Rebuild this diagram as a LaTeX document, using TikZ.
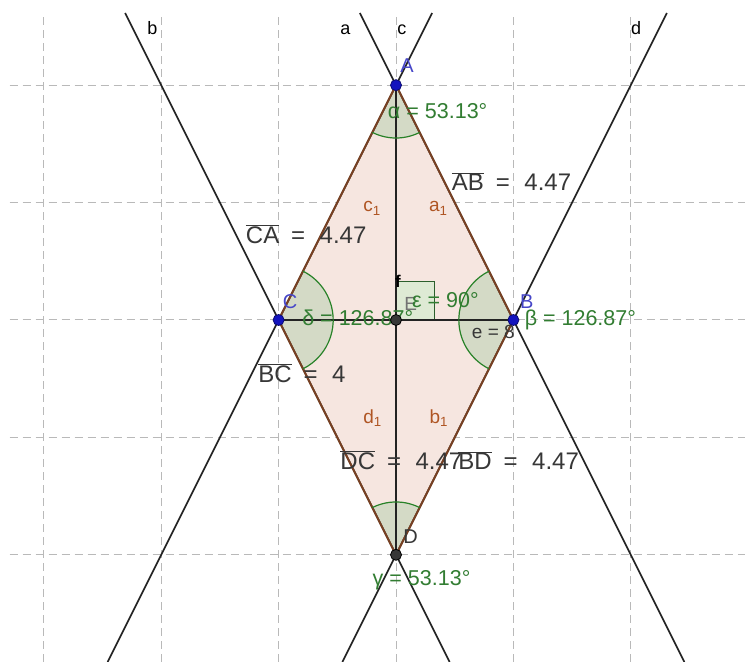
\documentclass[tikz,border=0pt]{standalone}
\usepackage{fontspec}
\setmainfont{Liberation Sans}
\usetikzlibrary{calc}
\definecolor{gridc}{RGB}{185,185,185}
\definecolor{linec}{RGB}{35,35,35}
\definecolor{rhfill}{RGB}{246,230,224}
\definecolor{rhedge}{RGB}{120,65,35}
\definecolor{angfill}{RGB}{212,218,198}
\definecolor{angline}{RGB}{40,130,40}
\definecolor{gtext}{RGB}{50,125,50}
\definecolor{ptblue}{RGB}{20,20,190}
\definecolor{lblblue}{RGB}{70,70,200}
\definecolor{ptgray}{RGB}{55,55,55}
\definecolor{segtext}{RGB}{55,55,55}
\definecolor{subtext}{RGB}{175,85,35}
\definecolor{sqfill}{RGB}{222,234,212}
\begin{document}
\begin{tikzpicture}[x=58.7pt,y=58.7pt,
  gridline/.style={gridc,line width=1pt,dash pattern=on 8pt off 5pt},
  geoline/.style={linec,line width=1.7pt},
  edgeline/.style={rhedge,line width=2pt},
  sector/.style={fill=angfill},
  arcline/.style={angline,line width=1.2pt},
  bluept/.style={circle,fill=ptblue,draw=ptblue!60!black,line width=0.8pt,inner sep=0pt,minimum size=11pt},
  graypt/.style={circle,fill=ptgray,draw=black,line width=0.8pt,inner sep=0pt,minimum size=11pt},
  ptlabel/.style={lblblue,font=\fontsize{20}{20}\selectfont,inner sep=0pt,anchor=base west},
  anglabel/.style={gtext,font=\fontsize{21.5}{21.5}\selectfont,inner sep=0pt,anchor=base west},
  seglabel/.style={segtext,font=\fontsize{24}{24}\selectfont,inner sep=0pt,anchor=base west},
  sublabel/.style={subtext,font=\fontsize{19}{19}\selectfont,inner sep=0pt,anchor=base west},
  linelabel/.style={black,font=\fontsize{18}{18}\selectfont,inner sep=0pt,anchor=base west}]
\useasboundingbox (-6.746,-5.826) rectangle (5.945,5.451);
\fill[white] (-6.746,-5.826) rectangle (5.945,5.451);
% grid
\foreach \x in {-6,-4,-2,0,2,4} \draw[gridline] (\x,-5.826) -- (\x,5.23);
\foreach \y in {-4,-2,0,2,4} \draw[gridline] (-6.58,\y) -- (5.945,\y);
% points
\coordinate (A) at (0,4);
\coordinate (B) at (2,0);
\coordinate (C) at (-2,0);
\coordinate (D) at (0,-4);
\coordinate (E) at (0,0);
% line ends
\coordinate (aT) at (-0.615,5.23);
\coordinate (aB) at (4.913,-5.826);
\coordinate (cT) at (0.615,5.23);
\coordinate (cB) at (-4.913,-5.826);
\coordinate (bT) at (-4.615,5.23);
\coordinate (bB) at (0.913,-5.826);
\coordinate (dT) at (4.615,5.23);
\coordinate (dB) at (-0.913,-5.826);
% rhombus fill
\fill[rhfill] (A) -- (B) -- (D) -- (C) -- cycle;
% angle sectors
\fill[sector] (A) -- ++(-116.57:0.9) arc[start angle=-116.57,end angle=-63.43,radius=0.9] -- cycle;
\fill[sector] (C) -- ++(-63.43:0.93) arc[start angle=-63.43,end angle=63.43,radius=0.93] -- cycle;
\fill[sector] (B) -- ++(116.57:0.93) arc[start angle=116.57,end angle=243.43,radius=0.93] -- cycle;
\fill[sector] (D) -- ++(63.43:0.9) arc[start angle=63.43,end angle=116.57,radius=0.9] -- cycle;
% right angle mark
\filldraw[fill=sqfill,draw=ptgray!80!green,line width=1pt] (E) rectangle (0.65,0.66);
% lines
\draw[geoline] (aT) -- (aB);
\draw[geoline] (cT) -- (cB);
\draw[geoline] (bT) -- (bB);
\draw[geoline] (dT) -- (dB);
% rhombus edges
\draw[edgeline] (A) -- (B) -- (D) -- (C) -- cycle;
% diagonals
\draw[geoline] (A) -- (D);
\draw[geoline] (C) -- (B);
% arcs
\draw[arcline] ($(A)+(-116.57:0.9)$) arc[start angle=-116.57,end angle=-63.43,radius=0.9];
\draw[arcline] ($(C)+(-63.43:0.93)$) arc[start angle=-63.43,end angle=63.43,radius=0.93];
\draw[arcline] ($(B)+(116.57:0.93)$) arc[start angle=116.57,end angle=243.43,radius=0.93];
\draw[arcline] ($(D)+(63.43:0.9)$) arc[start angle=63.43,end angle=116.57,radius=0.9];
% line labels
\node[linelabel] (lb) at (-4.24,4.86) {b};
\node[linelabel] (la) at (-0.95,4.86) {a};
\node[linelabel] (lc) at (0.02,4.86) {c};
\node[linelabel] (ld) at (4.0,4.86) {d};
% angle labels
\node[anglabel] (alpha) at (-0.14,3.43) {α = 53.13°};
\node[anglabel] (delta) at (-1.60,-0.10) {δ = 126.87°};
\node[anglabel] (beta) at (2.19,-0.10) {β = 126.87°};
\node[anglabel] (gamma) at (-0.40,-4.52) {γ = 53.13°};
\node[font=\fontsize{19}{19}\selectfont,ptgray!70,inner sep=0pt,anchor=base west] (lE) at (0.14,0.17) {E};
\node[anglabel] (eps) at (0.27,0.22) {ε = 90°};
% segment labels
\node[seglabel] (AB) at (0.95,2.20) {\(\overline{\mbox{AB}}\)\hspace{0.5em}=\hspace{0.6em}4.47};
\node[seglabel] (CA) at (-2.56,1.30) {\(\overline{\mbox{CA}}\)\hspace{0.5em}=\hspace{0.6em}4.47};
\node[seglabel] (BC) at (-2.35,-1.07) {\(\overline{\mbox{BC}}\)\hspace{0.5em}=\hspace{0.6em}4};
\node[seglabel] (DC) at (-0.95,-2.55) {\(\overline{\mbox{DC}}\)\hspace{0.5em}=\hspace{0.6em}4.47};
\node[seglabel] (BD) at (1.06,-2.55) {\(\overline{\mbox{BD}}\)\hspace{0.5em}=\hspace{0.6em}4.47};
\node[font=\fontsize{19}{19}\selectfont,segtext,inner sep=0pt,anchor=base west] (le) at (1.29,-0.31) {e = 8};
\node[font=\bfseries\fontsize{17}{17}\selectfont,black,inner sep=0pt,anchor=base west] (lf) at (-0.02,0.55) {f};
% side name labels
\node[sublabel] (c1) at (-0.56,1.84) {c\textsubscript{1}};
\node[sublabel] (a1) at (0.56,1.84) {a\textsubscript{1}};
\node[sublabel] (d1) at (-0.56,-1.76) {d\textsubscript{1}};
\node[sublabel] (b1) at (0.57,-1.76) {b\textsubscript{1}};
% points
\node[bluept] (pA) at (A) {};
\node[bluept] (pB) at (B) {};
\node[bluept] (pC) at (C) {};
\node[graypt] (pD) at (D) {};
\node[graypt] (pE) at (E) {};
% point labels
\node[ptlabel] (lA) at (0.07,4.22) {A};
\node[ptlabel] (lB) at (2.11,0.20) {B};
\node[ptlabel] (lC) at (-1.93,0.20) {C};
\node[ptlabel,ptgray] (lD) at (0.12,-3.80) {D};
\end{tikzpicture}
\end{document}
